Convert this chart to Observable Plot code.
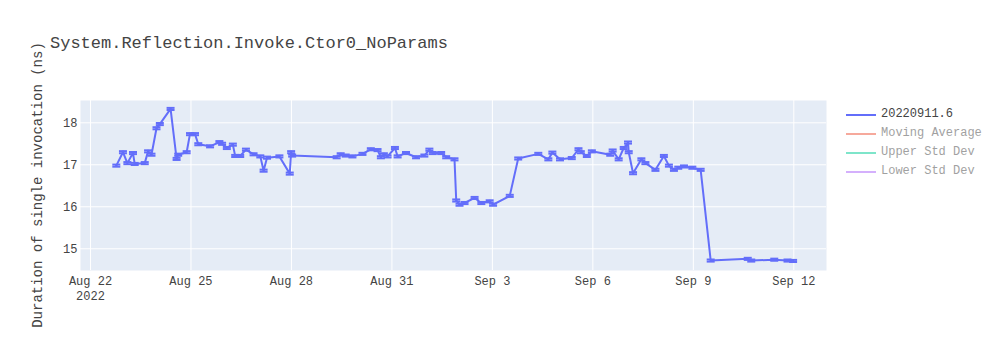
<!DOCTYPE html>
<html>
<head>
<meta charset="utf-8">
<script src="https://cdn.jsdelivr.net/npm/d3@7"></script>
<script src="https://cdn.jsdelivr.net/npm/@observablehq/plot@0.6"></script>
<style>
  html, body { margin: 0; padding: 0; background: #fff; }
  #wrap { position: relative; width: 1000px; height: 350px; font-family: "Liberation Mono", "Courier New", monospace; color: #444; }
  #title { position: absolute; left: 50px; top: 34px; font-size: 17px; white-space: pre; }
  #ylab { position: absolute; left: 38px; top: 185px; font-size: 14px; white-space: pre; transform: translate(-50%, -50%) rotate(-90deg); }
  #legend { position: absolute; left: 846px; top: 105px; font-size: 12px; }
  .item { position: relative; height: 19px; }
  .sw { position: absolute; left: 0; top: 9px; width: 30px; height: 2px; }
  .lt { position: absolute; left: 35px; top: 2px; white-space: pre; }
  svg { position: absolute; left: 0; top: 0; }
</style>
</head>
<body>
<div id="wrap">
  <div id="chart"></div>
  <div id="title">System.Reflection.Invoke.Ctor0_NoParams</div>
  <div id="ylab">Duration of single invocation (ns)</div>
  <div id="legend"></div>
</div>
<script>
const times = [
  "2022-08-22T18:30","2022-08-22T23:15","2022-08-23T02:25","2022-08-23T06:27","2022-08-23T07:41",
  "2022-08-23T14:53","2022-08-23T17:15","2022-08-23T19:42","2022-08-23T23:18","2022-08-24T01:41",
  "2022-08-24T09:23","2022-08-24T13:42","2022-08-24T14:51","2022-08-24T20:54","2022-08-24T23:17",
  "2022-08-25T02:53","2022-08-25T05:15","2022-08-25T13:41","2022-08-25T20:22","2022-08-25T22:19",
  "2022-08-26T01:42","2022-08-26T06:01","2022-08-26T07:41","2022-08-26T11:17","2022-08-26T15:23",
  "2022-08-26T20:51","2022-08-27T01:41","2022-08-27T04:03","2022-08-27T06:30","2022-08-27T15:22",
  "2022-08-27T22:47","2022-08-27T23:47","2022-08-28T00:30","2022-08-29T08:24","2022-08-29T11:17",
  "2022-08-29T14:53","2022-08-29T19:42","2022-08-30T02:54","2022-08-30T08:53","2022-08-30T13:42",
  "2022-08-30T16:05","2022-08-30T18:14","2022-08-30T20:54","2022-08-31T02:10","2022-08-31T04:06",
  "2022-08-31T10:05","2022-08-31T17:17","2022-08-31T23:15","2022-09-01T02:51","2022-09-01T05:18",
  "2022-09-01T11:17","2022-09-01T14:53","2022-09-01T20:51","2022-09-01T22:05","2022-09-02T00:27",
  "2022-09-02T04:03","2022-09-02T11:15","2022-09-02T16:05","2022-09-02T22:03","2022-09-03T00:30",
  "2022-09-03T12:27","2022-09-03T18:30","2022-09-04T08:54","2022-09-04T16:06","2022-09-04T18:59",
  "2022-09-05T00:27","2022-09-05T08:53","2022-09-05T13:42","2022-09-05T15:22","2022-09-05T19:41",
  "2022-09-05T23:17","2022-09-06T12:27","2022-09-06T14:11","2022-09-06T18:30","2022-09-06T22:06",
  "2022-09-07T01:12","2022-09-07T01:42","2022-09-07T04:48","2022-09-07T10:46","2022-09-07T13:39",
  "2022-09-07T20:51","2022-09-08T02:54","2022-09-08T06:30","2022-09-08T10:06","2022-09-08T13:12",
  "2022-09-08T17:18","2022-09-08T23:17","2022-09-09T05:15","2022-09-09T12:27","2022-09-10T15:00",
  "2022-09-10T17:30","2022-09-11T10:00","2022-09-11T19:30","2022-09-11T23:30"
];
const durations = [
  16.98,17.30,17.04,17.28,17.02,
  17.04,17.32,17.24,17.87,17.97,
  18.33,17.14,17.24,17.30,17.73,
  17.73,17.49,17.44,17.54,17.50,
  17.40,17.48,17.21,17.21,17.36,
  17.25,17.20,16.86,17.17,17.20,
  16.79,17.30,17.22,17.18,17.25,
  17.22,17.20,17.26,17.37,17.35,
  17.18,17.25,17.20,17.40,17.20,
  17.28,17.18,17.22,17.36,17.28,
  17.28,17.18,17.13,16.15,16.05,
  16.09,16.21,16.09,16.13,16.05,
  16.26,17.15,17.26,17.13,17.29,
  17.13,17.16,17.37,17.30,17.21,
  17.32,17.24,17.34,17.13,17.40,
  17.53,17.30,16.80,17.13,17.04,
  16.88,17.21,16.98,16.88,16.93,
  16.96,16.93,16.88,14.72,14.76,
  14.72,14.74,14.72,14.71
];
const errorHalf = 0.025;
const xTicks = ["2022-08-22","2022-08-25","2022-08-28","2022-08-31","2022-09-03","2022-09-06","2022-09-09","2022-09-12"];
const yTicks = [15, 16, 17, 18];
const xDomain = ["2022-08-21T16:50", "2022-09-12T23:26"];
const yDomain = [14.483, 18.531];
const legendNames = ["20220911.6", "Moving Average", "Upper Std Dev", "Lower Std Dev"];
const legendColors = ["#636efa", "#EF553B", "#00cc96", "#ab63fa"];
const legendHidden = [false, true, true, true];

const parse = s => new Date(s);
const data = times.map((t, i) => ({t: parse(t), v: durations[i]}));

const cap = { draw(ctx, size) { ctx.moveTo(-4, 0); ctx.lineTo(4, 0); } };
const fmt = d3.timeFormat("%b %-d");

const chart = Plot.plot({
  width: 1000,
  height: 350,
  marginLeft: 80,
  marginRight: 174,
  marginTop: 100,
  marginBottom: 80,
  style: { fontFamily: "'Liberation Mono', 'Courier New', monospace", fontSize: "12px", color: "#444", background: "transparent" },
  x: { type: "time", domain: xDomain.map(parse), label: null },
  y: { domain: yDomain, label: null },
  marks: [
    Plot.frame({ fill: "#e5ecf6", stroke: null }),
    Plot.gridX(xTicks.map(parse), { stroke: "white", strokeOpacity: 1, strokeWidth: 1 }),
    Plot.gridY(yTicks, { stroke: "white", strokeOpacity: 1, strokeWidth: 1 }),
    Plot.axisX(xTicks.map(parse), { tickFormat: (d, i) => fmt(d) + (i === 0 ? "\n2022" : ""), tickSize: 0, tickPadding: 4, lineHeight: 1.25, label: null, fill: "#444" }),
    Plot.axisY(yTicks, { tickFormat: d => String(d), tickSize: 0, tickPadding: 3, label: null, fill: "#444" }),
    Plot.line(data, { x: "t", y: "v", stroke: "#636efa", strokeWidth: 2 }),
    Plot.ruleX(data, { x: "t", y1: d => d.v - errorHalf, y2: d => d.v + errorHalf, stroke: "#636efa", strokeWidth: 2 }),
    Plot.dot(data, { x: "t", y: d => d.v - errorHalf, symbol: cap, r: 4, stroke: "#636efa", strokeWidth: 2, fill: "none" }),
    Plot.dot(data, { x: "t", y: d => d.v + errorHalf, symbol: cap, r: 4, stroke: "#636efa", strokeWidth: 2, fill: "none" })
  ]
});
document.getElementById("chart").appendChild(chart);

const legend = document.getElementById("legend");
legendNames.forEach((n, i) => {
  const item = document.createElement("div");
  item.className = "item";
  if (legendHidden[i]) item.style.opacity = 0.5;
  const sw = document.createElement("div");
  sw.className = "sw";
  sw.style.background = legendColors[i];
  const lt = document.createElement("div");
  lt.className = "lt";
  lt.textContent = n;
  item.appendChild(sw);
  item.appendChild(lt);
  legend.appendChild(item);
});
</script>
</body>
</html>
